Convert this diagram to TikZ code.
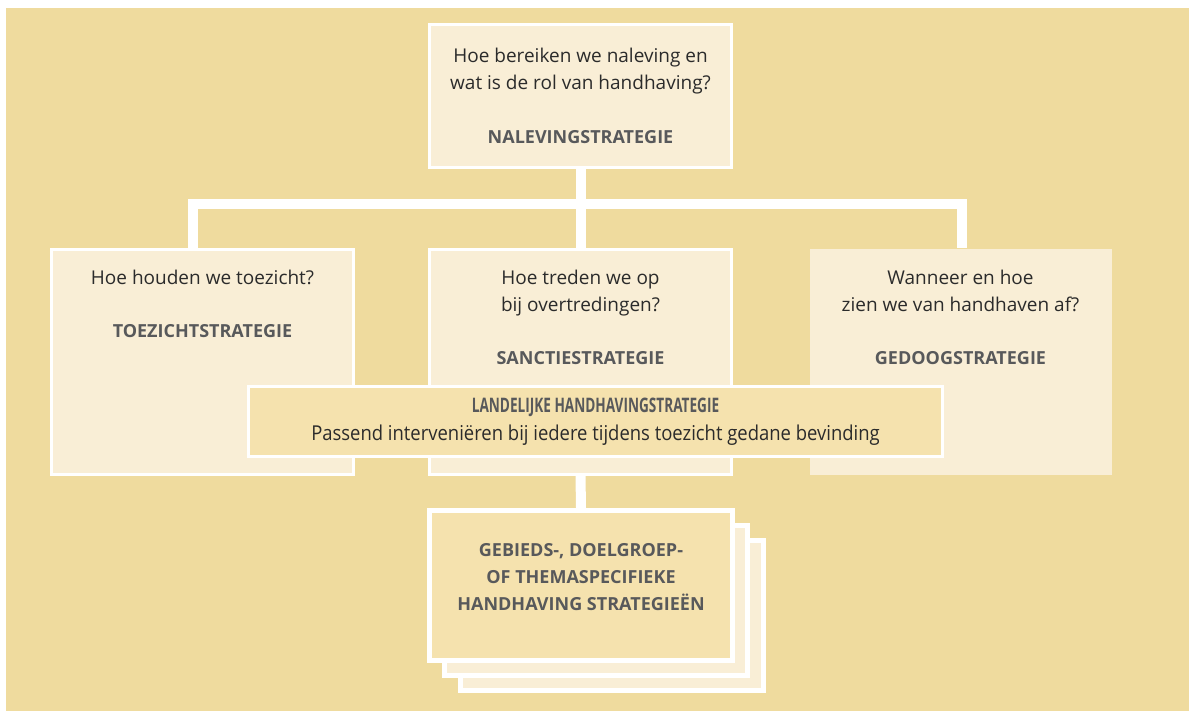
\documentclass[tikz,border=0pt]{standalone}
\usepackage{fontspec}
\setmainfont{Open Sans}
\newfontfamily\smal[FakeStretch=0.68]{Open Sans}
\newfontfamily\half[FakeStretch=0.9]{Open Sans}
\usetikzlibrary{positioning}
\definecolor{zand}{HTML}{EFDB9E}
\definecolor{licht}{HTML}{F9EED6}
\definecolor{midden}{HTML}{F5E2AE}
\definecolor{donker}{HTML}{2B2B2B}
\definecolor{grijs}{HTML}{58595B}
\newcommand{\kop}[1]{{\fontsize{18}{27}\selectfont\bfseries\color{grijs}#1}}

\begin{document}
\begin{tikzpicture}[x=1pt,y=-1pt]
    \tikzstyle{vak} = [rectangle, draw=white, line width=3pt, fill=licht, minimum width=302pt, minimum height=225pt, inner sep=0pt]
    \tikzstyle{tekst} = [align=center, text=donker, inner sep=0pt, font=\fontsize{19}{27}\selectfont]
    \tikzstyle{stapel} = [vak, line width=5pt, minimum width=303pt, minimum height=150pt]
    \tikzstyle{lijn} = [draw=white, line width=10pt, line join=miter]
        % achtergrond
        \fill[white] (0,0) rectangle (1189,711);
        \fill[zand] (6,8) rectangle (1189,711);
        \useasboundingbox (0,0) rectangle (1189,711);
        \node (naleving) [vak, minimum height=143pt, tekst, fill=licht] at (580.5,96) {Hoe bereiken we naleving en\\ wat is de rol van handhaving?\\[27pt] \kop{NALEVINGSTRATEGIE}};
        \node (sanctie) [vak, below=79pt of naleving] {};
        \node (toezicht) [vak, left=73pt of sanctie] {};
        \node (gedoog) [vak, draw=none, right=75pt of sanctie] {};
        \node (t1) [tekst, below=22pt of toezicht.north] {Hoe houden we toezicht?\\[26pt] \kop{TOEZICHTSTRATEGIE}};
        \node (t2) [tekst, below=22pt of sanctie.north] {Hoe treden we op\\ bij overtredingen?\\[26pt] \kop{SANCTIESTRATEGIE}};
        \node (t3) [tekst, below=22pt of gedoog.north] {Wanneer en hoe\\ zien we van handhaven af?\\[26pt] \kop{GEDOOGSTRATEGIE}};
        \node (landelijk) [vak, fill=midden, minimum width=694pt, minimum height=70pt, tekst, font=\half\fontsize{20.5}{28}\selectfont] at (595.5,421.5) {{\smal\fontsize{20}{28}\selectfont\bfseries\color{grijs}LANDELIJKE HANDHAVINGSTRATEGIE}\\ Passend interveniëren bij iedere tijdens toezicht gedane bevinding};
        \node (stapel3) [stapel] at (611.5,615.5) {};
        \node (stapel2) [stapel] at (596,600.5) {};
        \node (gebied) [stapel, fill=midden] at (581,585.5) {};
        \node (t4) [tekst] at ([yshift=8pt]gebied.center) {\kop{GEBIEDS-, DOELGROEP-}\\ \kop{OF THEMASPECIFIEKE}\\ \kop{HANDHAVING STRATEGIEËN}};
        % verbindingen
        \coordinate (split) at (583,204);
        \draw[lijn] (naleving.south) -- (sanctie.north);
        \draw[lijn] ([xshift=-10pt]toezicht.north) |- (split) -| ([xshift=1.5pt]gedoog.north);
        \draw[lijn] (sanctie.south) -- (gebied.north);
\end{tikzpicture}
\end{document}
